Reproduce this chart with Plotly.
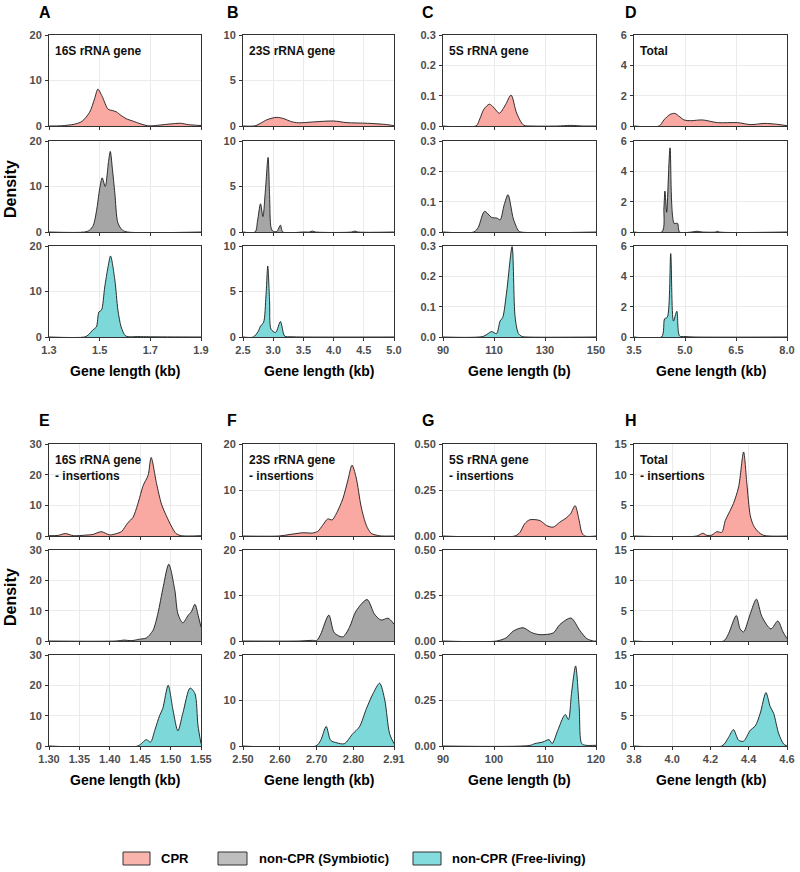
import plotly.graph_objects as go

# ---------------- data ----------------
A_CPR_x = [1.30, 1.35, 1.40, 1.43, 1.46, 1.48, 1.493, 1.51, 1.533, 1.55, 1.566, 1.585, 1.605, 1.63, 1.66, 1.69, 1.72, 1.76, 1.80, 1.82, 1.85, 1.90]
A_CPR_y = [0, 0.05, 0.4, 1.0, 3.0, 6.0, 8.1, 6.5, 3.7, 3.4, 3.1, 2.3, 1.6, 1.1, 0.5, 0.05, 0.1, 0.35, 0.55, 0.6, 0.3, 0.1]
A_SYM_x = [1.30, 1.44, 1.46, 1.475, 1.488, 1.50, 1.51, 1.522, 1.535, 1.542, 1.55, 1.56, 1.572, 1.59, 1.61, 1.90]
A_SYM_y = [0, 0, 0.4, 1.5, 4.8, 9.5, 11.9, 10.0, 15.5, 17.7, 14.0, 8.5, 2.0, 0.4, 0, 0]
A_FREE_x = [1.30, 1.44, 1.454, 1.474, 1.487, 1.497, 1.507, 1.52, 1.533, 1.543, 1.56, 1.572, 1.585, 1.603, 1.65, 1.70, 1.90]
A_FREE_y = [0, 0, 0.4, 1.6, 2.2, 5.5, 5.9, 11.0, 15.4, 17.8, 12.5, 5.9, 2.2, 0.2, 0.1, 0.05, 0]

B_CPR_x = [2.5, 2.7, 2.79, 2.9, 3.06, 3.18, 3.29, 3.42, 3.67, 4.0, 4.22, 4.56, 4.89, 5.0]
B_CPR_y = [0, 0.02, 0.3, 0.7, 0.95, 0.8, 0.5, 0.35, 0.45, 0.55, 0.37, 0.3, 0.15, 0.03]
B_SYM_x = [2.5, 2.70, 2.74, 2.79, 2.83, 2.87, 2.915, 2.94, 2.965, 3.0, 3.06, 3.12, 3.16, 3.5, 3.6, 3.65, 3.7, 4.3, 4.35, 4.4, 5.0]
B_SYM_y = [0, 0, 1.2, 3.1, 1.7, 4.5, 8.2, 4.0, 0.45, 0.05, 0.05, 0.75, 0, 0, 0, 0.1, 0, 0, 0.1, 0, 0]
B_FREE_x = [2.5, 2.67, 2.75, 2.79, 2.84, 2.88, 2.91, 2.94, 2.965, 3.04, 3.12, 3.19, 3.3, 3.5, 5.0]
B_FREE_y = [0, 0, 0.6, 1.2, 1.6, 4.5, 7.8, 4.0, 0.85, 0.5, 1.7, 0.1, 0.03, 0, 0]

C_CPR_x = [90, 102.9, 104.5, 106, 108.2, 110, 112.1, 114.5, 116.7, 118.9, 121.6, 125, 135, 140, 145, 150]
C_CPR_y = [0, 0, 0.025, 0.055, 0.072, 0.06, 0.042, 0.07, 0.102, 0.042, 0.003, 0, 0, 0.002, 0, 0]
C_SYM_x = [90, 102.1, 103.8, 106.3, 109.1, 111.1, 112.4, 114, 115.5, 117.6, 119.6, 120.5, 150]
C_SYM_y = [0, 0, 0.015, 0.068, 0.048, 0.046, 0.04, 0.09, 0.123, 0.043, 0.004, 0, 0]
C_FREE_x = [90, 105.8, 107.8, 109.1, 111, 112.4, 113.4, 115, 117.1, 118.3, 119.6, 120.9, 123, 150]
C_FREE_y = [0, 0.002, 0.012, 0.018, 0.011, 0.053, 0.064, 0.152, 0.298, 0.064, 0.011, 0.002, 0, 0]

D_CPR_x = [3.5, 4.24, 4.38, 4.55, 4.70, 4.85, 4.97, 5.17, 5.51, 5.96, 6.55, 6.94, 7.33, 7.72, 8.0]
D_CPR_y = [0, 0, 0.4, 0.75, 0.83, 0.6, 0.4, 0.35, 0.4, 0.22, 0.22, 0.09, 0.17, 0.11, 0.02]
D_SYM_x = [3.5, 4.32, 4.38, 4.41, 4.46, 4.56, 4.68, 4.78, 4.84, 5.2, 5.35, 5.5, 5.9, 5.95, 6.0, 8.0]
D_SYM_y = [0, 0, 1.6, 2.7, 1.3, 5.55, 0.57, 0.57, 0, 0, 0.05, 0, 0, 0.05, 0, 0]
D_FREE_x = [3.5, 4.31, 4.40, 4.48, 4.58, 4.66, 4.76, 4.84, 5.0, 5.3, 8.0]
D_FREE_y = [0, 0, 1.2, 1.3, 5.5, 1.05, 1.7, 0.07, 0.03, 0, 0]

E_CPR_x = [1.30, 1.315, 1.327, 1.34, 1.361, 1.372, 1.386, 1.40, 1.411, 1.419, 1.43, 1.438, 1.446, 1.455, 1.463, 1.468, 1.477, 1.485, 1.493, 1.501, 1.509, 1.518, 1.55]
E_CPR_y = [0.1, 0.2, 0.8, 0.1, 0.3, 0.5, 1.4, 0.35, 0.8, 1.4, 4.4, 6.0, 10.4, 16.5, 19.8, 25.6, 17.0, 10.4, 6.6, 3.3, 0.8, 0.1, 0.1]
E_SYM_x = [1.30, 1.41, 1.424, 1.435, 1.449, 1.46, 1.471, 1.479, 1.488, 1.497, 1.507, 1.512, 1.52, 1.529, 1.534, 1.54, 1.546, 1.55]
E_SYM_y = [0, 0, 0.3, 0.1, 0.6, 1.0, 3.5, 9.0, 18.0, 25.3, 16.7, 9.0, 6.0, 8.5, 9.6, 12.1, 7.9, 4.6]
E_FREE_x = [1.30, 1.446, 1.46, 1.467, 1.474, 1.482, 1.487, 1.496, 1.504, 1.512, 1.52, 1.532, 1.54, 1.545, 1.55]
E_FREE_y = [0, 0, 2.1, 1.3, 5.2, 10.1, 12.3, 20.0, 11.8, 5.0, 10.7, 19.1, 17.3, 6.8, 0.8]

F_CPR_x = [2.50, 2.598, 2.625, 2.662, 2.689, 2.703, 2.716, 2.73, 2.742, 2.753, 2.771, 2.785, 2.796, 2.807, 2.821, 2.835, 2.848, 2.871, 2.91]
F_CPR_y = [0, 0, 0.3, 0.7, 0.65, 1.0, 2.3, 3.7, 3.5, 4.8, 8.1, 12.2, 15.4, 12.8, 6.3, 2.3, 0.6, 0.05, 0]
F_SYM_x = [2.50, 2.653, 2.689, 2.70, 2.711, 2.733, 2.748, 2.771, 2.789, 2.807, 2.837, 2.857, 2.875, 2.894, 2.91]
F_SYM_y = [0, 0, 0.15, 0.1, 1.5, 5.7, 1.8, 0.9, 3.0, 6.6, 9.1, 5.9, 4.6, 5.0, 3.7]
F_FREE_x = [2.50, 2.698, 2.711, 2.726, 2.738, 2.755, 2.775, 2.798, 2.816, 2.835, 2.853, 2.871, 2.885, 2.898, 2.91]
F_FREE_y = [0, 0, 1.25, 4.3, 1.25, 0.7, 0.5, 2.7, 4.2, 8.2, 11.5, 13.8, 10.1, 2.7, 0.5]

G_CPR_x = [90, 104.1, 105.1, 106.0, 107.0, 109.0, 110.3, 111.6, 112.9, 114.2, 115.0, 115.9, 116.7, 117.2, 117.8, 120]
G_CPR_y = [0, 0, 0.02, 0.066, 0.088, 0.084, 0.057, 0.048, 0.075, 0.099, 0.12, 0.165, 0.084, 0.02, 0, 0]
G_SYM_x = [90, 100.5, 102.4, 103.8, 105.7, 107.4, 109.0, 111.6, 112.9, 115.1, 116.8, 118.2, 119.5, 120]
G_SYM_y = [0, 0, 0.018, 0.055, 0.073, 0.046, 0.035, 0.044, 0.09, 0.126, 0.059, 0.013, 0, 0]
G_FREE_x = [90, 107, 108.0, 109.6, 110.8, 111.4, 112.5, 113.6, 114.0, 114.6, 115.2, 116.0, 116.7, 117.2, 118, 120]
G_FREE_y = [0, 0.003, 0.013, 0.022, 0.035, 0.013, 0.086, 0.16, 0.173, 0.145, 0.29, 0.44, 0.215, 0.013, 0.004, 0.004]

H_CPR_x = [3.8, 4.128, 4.16, 4.181, 4.207, 4.233, 4.259, 4.277, 4.294, 4.32, 4.347, 4.373, 4.39, 4.408, 4.425, 4.452, 4.478, 4.6]
H_CPR_y = [0, 0, 0.45, 0.1, 0.15, 0.7, 0.6, 2.5, 3.6, 5.3, 8.0, 13.7, 8.6, 3.35, 1.7, 0.6, 0.1, 0]
H_SYM_x = [3.8, 4.268, 4.294, 4.335, 4.355, 4.373, 4.408, 4.44, 4.469, 4.516, 4.552, 4.579, 4.6]
H_SYM_y = [0, 0, 1.2, 4.2, 2.0, 1.5, 4.5, 6.9, 4.0, 2.0, 3.3, 1.5, 0.4]
H_FREE_x = [3.8, 4.259, 4.294, 4.32, 4.347, 4.373, 4.408, 4.434, 4.46, 4.49, 4.512, 4.53, 4.557, 4.583, 4.6]
H_FREE_y = [0, 0, 1.4, 2.7, 0.95, 0.8, 2.6, 3.3, 5.4, 8.8, 6.5, 5.4, 2.0, 0.3, 0]

# axis ranges / ticks
A_xticks = [1.3, 1.5, 1.7, 1.9]; A_xlabels = ["1.3", "1.5", "1.7", "1.9"]
A_yticks = [0, 10, 20];          A_ylabels = ["0", "10", "20"]
B_xticks = [2.5, 3.0, 3.5, 4.0, 4.5, 5.0]; B_xlabels = ["2.5", "3.0", "3.5", "4.0", "4.5", "5.0"]
B_yticks = [0, 5, 10];           B_ylabels = ["0", "5", "10"]
C_xticks = [90, 110, 130, 150];  C_xlabels = ["90", "110", "130", "150"]
C_yticks = [0, 0.1, 0.2, 0.3];   C_ylabels = ["0.0", "0.1", "0.2", "0.3"]
D_xticks = [3.5, 5.0, 6.5, 8.0]; D_xlabels = ["3.5", "5.0", "6.5", "8.0"]
D_yticks = [0, 2, 4, 6];         D_ylabels = ["0", "2", "4", "6"]
E_xticks = [1.30, 1.35, 1.40, 1.45, 1.50, 1.55]; E_xlabels = ["1.30", "1.35", "1.40", "1.45", "1.50", "1.55"]
E_yticks = [0, 10, 20, 30];      E_ylabels = ["0", "10", "20", "30"]
F_xticks = [2.50, 2.60, 2.70, 2.80, 2.91]; F_xlabels = ["2.50", "2.60", "2.70", "2.80", "2.91"]
F_yticks = [0, 10, 20];          F_ylabels = ["0", "10", "20"]
G_xticks = [90, 100, 110, 120];  G_xlabels = ["90", "100", "110", "120"]
G_yticks = [0, 0.25, 0.5];       G_ylabels = ["0.00", "0.25", "0.50"]
H_xticks = [3.8, 4.0, 4.2, 4.4, 4.6]; H_xlabels = ["3.8", "4.0", "4.2", "4.4", "4.6"]
H_yticks = [0, 5, 10, 15];       H_ylabels = ["0", "5", "10", "15"]

panel_letters = ["A", "B", "C", "D", "E", "F", "G", "H"]
panel_titles = ["16S rRNA gene", "23S rRNA gene", "5S rRNA gene", "Total",
                "16S rRNA gene<br>- insertions", "23S rRNA gene<br>- insertions",
                "5S rRNA gene<br>- insertions", "Total<br>- insertions"]
x_titles = ["Gene length (kb)", "Gene length (kb)", "Gene length (b)", "Gene length (kb)"] * 2
group_names = ["CPR", "non-CPR (Symbiotic)", "non-CPR (Free-living)"]

# ---------------- build ----------------
panels = [
    ([1.3, 1.9], A_xticks, A_xlabels, [0, 20], A_yticks, A_ylabels, [(A_CPR_x, A_CPR_y), (A_SYM_x, A_SYM_y), (A_FREE_x, A_FREE_y)]),
    ([2.5, 5.0], B_xticks, B_xlabels, [0, 10], B_yticks, B_ylabels, [(B_CPR_x, B_CPR_y), (B_SYM_x, B_SYM_y), (B_FREE_x, B_FREE_y)]),
    ([90, 150], C_xticks, C_xlabels, [0, 0.3], C_yticks, C_ylabels, [(C_CPR_x, C_CPR_y), (C_SYM_x, C_SYM_y), (C_FREE_x, C_FREE_y)]),
    ([3.5, 8.0], D_xticks, D_xlabels, [0, 6], D_yticks, D_ylabels, [(D_CPR_x, D_CPR_y), (D_SYM_x, D_SYM_y), (D_FREE_x, D_FREE_y)]),
    ([1.30, 1.55], E_xticks, E_xlabels, [0, 30], E_yticks, E_ylabels, [(E_CPR_x, E_CPR_y), (E_SYM_x, E_SYM_y), (E_FREE_x, E_FREE_y)]),
    ([2.50, 2.91], F_xticks, F_xlabels, [0, 20], F_yticks, F_ylabels, [(F_CPR_x, F_CPR_y), (F_SYM_x, F_SYM_y), (F_FREE_x, F_FREE_y)]),
    ([90, 120], G_xticks, G_xlabels, [0, 0.5], G_yticks, G_ylabels, [(G_CPR_x, G_CPR_y), (G_SYM_x, G_SYM_y), (G_FREE_x, G_FREE_y)]),
    ([3.8, 4.6], H_xticks, H_xlabels, [0, 15], H_yticks, H_ylabels, [(H_CPR_x, H_CPR_y), (H_SYM_x, H_SYM_y), (H_FREE_x, H_FREE_y)]),
]

W, H = 800, 872
FILLS = ["#F9A8A2", "#A6A6A6", "#7DD8DA"]
LEG_FILLS = ["#FAB4AE", "#BEBEBE", "#85DCDD"]
FONT = "Liberation Sans, Arial, sans-serif"
col_px = [(49, 201), (243, 394), (443, 596), (634, 787)]
rows_top = [(35, 126), (141, 232), (246, 337)]
rows_bot = [(444, 536), (550, 641), (655, 746)]

fig = go.Figure()
layout_axes = {}
annotations = []
k = 0
for pi, (xr, xt, xl, yr, yt, yl, curves) in enumerate(panels):
    col = pi % 4
    rows = rows_top if pi < 4 else rows_bot
    for ri in range(3):
        k += 1
        xref = "x" if k == 1 else f"x{k}"
        yref = "y" if k == 1 else f"y{k}"
        xs, ys = curves[ri]
        fig.add_trace(go.Scatter(
            x=xs, y=ys, xaxis=xref, yaxis=yref, mode="lines", fill="tozeroy",
            fillcolor=FILLS[ri], name=group_names[ri],
            line=dict(color="#1a1a1a", width=0.9, shape="spline", smoothing=0.8),
            showlegend=False, hoverinfo="skip"))
        x0, x1 = col_px[col]
        y0, y1 = rows[ri]
        common = dict(showline=True, mirror=True, linecolor="#333333", linewidth=1,
                      showgrid=True, gridcolor="#EBEBEB", gridwidth=1, zeroline=False,
                      ticks="outside", ticklen=3, tickcolor="#333333", tickwidth=1,
                      automargin=False,
                      tickfont=dict(family=FONT, size=11, color="#4D4D4D", weight="bold"))
        layout_axes["xaxis" if k == 1 else f"xaxis{k}"] = dict(
            domain=[x0 / W, x1 / W], range=xr, anchor=yref, tickmode="array",
            tickvals=xt, ticktext=xl, showticklabels=(ri == 2), **common)
        layout_axes["yaxis" if k == 1 else f"yaxis{k}"] = dict(
            domain=[1 - y1 / H, 1 - y0 / H], range=yr, anchor=xref, tickmode="array",
            tickvals=yt, ticktext=yl, ticklabelstandoff=1, **common)
    # panel title inside top subplot
    x0, x1 = col_px[col]
    ytop = rows[0][0]
    annotations.append(dict(text=panel_titles[pi], xref="paper", yref="paper",
                            x=(x0 + 4) / W, y=1 - (ytop + 7) / H, xanchor="left", yanchor="top",
                            align="left", showarrow=False,
                            font=dict(family=FONT, size=12, color="#111111", weight="bold")))
    # panel letter
    letter_x = [37, 225, 420, 623][col]
    letter_y = 12 if pi < 4 else 420
    annotations.append(dict(text=panel_letters[pi], xref="paper", yref="paper",
                            x=letter_x / W, y=1 - letter_y / H, xanchor="left", yanchor="middle",
                            showarrow=False,
                            font=dict(family=FONT, size=16, color="#000000", weight="bold")))
    # x axis title
    ty = 371 if pi < 4 else 780
    annotations.append(dict(text=x_titles[pi], xref="paper", yref="paper",
                            x=(x0 + x1) / 2 / W, y=1 - ty / H, xanchor="center", yanchor="middle",
                            showarrow=False,
                            font=dict(family=FONT, size=14, color="#000000", weight="bold")))

for cy in (189, 597):
    annotations.append(dict(text="Density", xref="paper", yref="paper", x=10 / W, y=1 - cy / H,
                            xanchor="center", yanchor="middle", textangle=-90, showarrow=False,
                            font=dict(family=FONT, size=16, color="#000000", weight="bold")))

# legend (boxes + labels)
shapes = []
leg_boxes = [(123, 150), (218, 247), (413, 441)]
leg_text_x = [159, 257, 450]
for i, name in enumerate(group_names):
    bx0, bx1 = leg_boxes[i]
    shapes.append(dict(type="rect", xref="paper", yref="paper",
                       x0=bx0 / W, x1=bx1 / W, y0=1 - 865 / H, y1=1 - 852 / H,
                       fillcolor=LEG_FILLS[i], line=dict(color="#333333", width=1)))
    annotations.append(dict(text=name, xref="paper", yref="paper", x=leg_text_x[i] / W,
                            y=1 - 858.5 / H, xanchor="left", yanchor="middle", showarrow=False,
                            font=dict(family=FONT, size=13, color="#000000", weight="bold")))

fig.update_layout(width=W, height=H, margin=dict(l=0, r=0, t=0, b=0, pad=0, autoexpand=False),
                  paper_bgcolor="white", plot_bgcolor="white", showlegend=False,
                  annotations=annotations, shapes=shapes, **layout_axes)

fig.write_html("out.html", config={"displayModeBar": False},
               post_script="document.body.style.margin='0';document.body.style.padding='0';"
                           "document.body.style.overflow='hidden';")
